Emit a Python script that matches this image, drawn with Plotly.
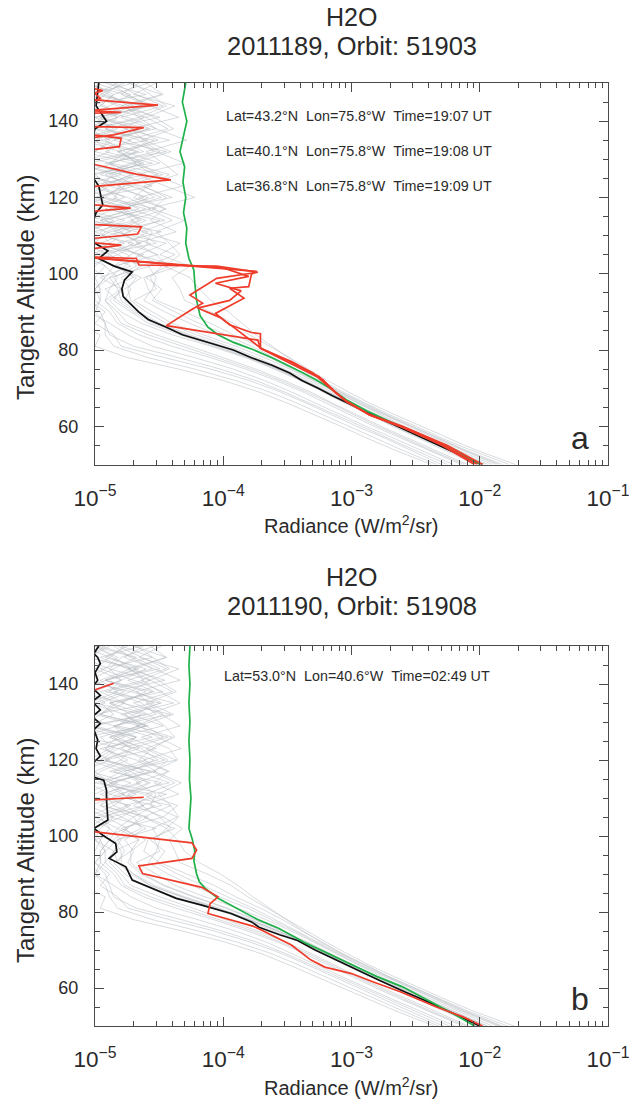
import plotly.graph_objects as go

# ---------------- data (radiance in W/m^2/sr, altitude in km) ----------------
gray_alt = [150, 147, 144, 141, 138, 135, 132, 129, 126, 123, 120, 117, 114, 111, 108, 105, 102, 99, 96,
            93, 90, 87, 84, 81, 78, 75, 72, 69, 66, 63, 60, 57, 54, 50]

gray_a_profiles = [
    [1.2e-5, 2.5e-5, 8e-6, 1.8e-5, 3e-5, 1.1e-5, 2.2e-5, 7e-6, 1.6e-5, 2.8e-5, 1e-5, 1.9e-5, 3.5e-5, 1.3e-5, 9e-6, 2.4e-5, 1.5e-5, 2e-5, 1.2e-5,
     1.5e-5, 2e-5, 2.8e-5, 5e-5, 9e-5, 1.6e-4, 2.7e-4, 4.3e-4, 6.5e-4, 1e-3, 1.5e-3, 2.3e-3, 3.6e-3, 5.6e-3, 1.05e-2],
    [2e-5, 9e-6, 1.5e-5, 3.2e-5, 1.2e-5, 2.6e-5, 8e-6, 1.9e-5, 1.1e-5, 2.3e-5, 4e-5, 1.4e-5, 9e-6, 2.1e-5, 3e-5, 1.1e-5, 2.7e-5, 1.3e-5, 1e-5,
     9e-6, 1.2e-5, 1e-5, 1.4e-5, 1.6e-5, 3.5e-5, 8e-5, 1.6e-4, 2.8e-4, 4.5e-4, 7e-4, 1.1e-3, 1.8e-3, 2.8e-3, 5e-3],
    [8e-6, 1.7e-5, 2.9e-5, 1e-5, 2.2e-5, 1.4e-5, 3.6e-5, 1.2e-5, 2.5e-5, 9e-6, 1.8e-5, 2.7e-5, 1.1e-5, 3.3e-5, 1.5e-5, 2.1e-5, 4.5e-5, 2.4e-5, 2.6e-5,
     3e-5, 5e-5, 8e-5, 1.2e-4, 1.9e-4, 2.8e-4, 4e-4, 5.8e-4, 8.2e-4, 1.25e-3, 1.9e-3, 3e-3, 4.7e-3, 7.5e-3, 1.5e-2],
    [1.5e-5, 1e-5, 2.3e-5, 1.3e-5, 7e-6, 1.9e-5, 1.2e-5, 2.8e-5, 9e-6, 1.6e-5, 1.2e-5, 3e-5, 1.5e-5, 8e-6, 2e-5, 1.3e-5, 1.9e-5, 1.1e-5, 1.6e-5,
     1.2e-5, 1.5e-5, 1.8e-5, 3e-5, 5.5e-5, 1e-4, 1.8e-4, 3e-4, 4.8e-4, 7.2e-4, 1.1e-3, 1.7e-3, 2.7e-3, 4.3e-3, 8e-3],
    [2.6e-5, 1.4e-5, 1.1e-5, 2.4e-5, 1.7e-5, 3.8e-5, 1.5e-5, 2.2e-5, 3.1e-5, 1.3e-5, 2.6e-5, 1.7e-5, 2.3e-5, 1.4e-5, 3.6e-5, 2.2e-5, 3.3e-5, 2.7e-5, 3e-5,
     2e-5, 2.8e-5, 4e-5, 7e-5, 1.25e-4, 2.1e-4, 3.3e-4, 5e-4, 7.5e-4, 1.1e-3, 1.7e-3, 2.6e-3, 4.1e-3, 6.5e-3, 1.25e-2],
    [1e-5, 1.9e-5, 1.3e-5, 8e-6, 1.5e-5, 9e-6, 2.1e-5, 1.4e-5, 7e-6, 2e-5, 1e-5, 8e-6, 1.7e-5, 1.1e-5, 1.3e-5, 8e-6, 1.2e-5, 1e-5, 1.1e-5,
     1.1e-5, 9e-6, 1.3e-5, 1.8e-5, 2.8e-5, 6e-5, 1.2e-4, 2.1e-4, 3.4e-4, 5.3e-4, 8.2e-4, 1.3e-3, 2.1e-3, 3.3e-3, 6.2e-3],
    [1.8e-5, 3.3e-5, 1.6e-5, 2.5e-5, 1e-5, 2.9e-5, 1.8e-5, 1.3e-5, 3.4e-5, 1.7e-5, 1.4e-5, 2.2e-5, 9e-6, 2.6e-5, 1.8e-5, 3.1e-5, 1.4e-5, 2.3e-5, 1.7e-5,
     1.3e-5, 1.6e-5, 2.3e-5, 4e-5, 8e-5, 1.5e-4, 2.5e-4, 4e-4, 6e-4, 9e-4, 1.4e-3, 2.1e-3, 3.3e-3, 5.1e-3, 9.5e-3],
    [3e-5, 2e-5, 4.2e-5, 2.5e-5, 3.7e-5, 1.8e-5, 3e-5, 5e-5, 2.1e-5, 3.5e-5, 6e-5, 2.6e-5, 4e-5, 2.3e-5, 4.6e-5, 3.2e-5, 5.5e-5, 4e-5, 4.6e-5,
     5e-5, 8e-5, 1.2e-4, 1.6e-4, 2.3e-4, 3.3e-4, 4.6e-4, 6.5e-4, 9.5e-4, 1.4e-3, 2.2e-3, 3.5e-3, 5.5e-3, 9e-3, 1.9e-2],
    [7e-6, 1.2e-5, 9e-6, 1.5e-5, 8e-6, 1.1e-5, 6e-6, 1.3e-5, 1.6e-5, 8e-6, 1.2e-5, 7e-6, 1.4e-5, 9e-6, 7e-6, 1.1e-5, 8e-6, 1e-5, 9e-6,
     8e-6, 1e-5, 7e-6, 1.1e-5, 1e-5, 1.8e-5, 4.5e-5, 1e-4, 1.9e-4, 3.2e-4, 5.2e-4, 8.3e-4, 1.3e-3, 2.1e-3, 4.2e-3],
    [1.4e-5, 2.1e-5, 3.4e-5, 1.6e-5, 2.7e-5, 1.2e-5, 1.7e-5, 3.2e-5, 1.4e-5, 2.1e-5, 2.9e-5, 1.3e-5, 2.5e-5, 1.6e-5, 2.2e-5, 1.5e-5, 2.3e-5, 1.6e-5, 1.9e-5,
     1.7e-5, 2.2e-5, 3.2e-5, 5.5e-5, 1e-4, 1.7e-4, 2.8e-4, 4.4e-4, 6.6e-4, 1e-3, 1.55e-3, 2.4e-3, 3.8e-3, 6e-3, 1.1e-2],
    [1.1e-5, 8e-6, 1.7e-5, 2.2e-5, 1e-5, 1.6e-5, 2.4e-5, 9e-6, 1.9e-5, 1.2e-5, 8e-6, 1.5e-5, 2e-5, 1e-5, 1.7e-5, 9e-6, 1.4e-5, 1.2e-5, 1e-5,
     1e-5, 1.3e-5, 1.5e-5, 2.2e-5, 4e-5, 8e-5, 1.5e-4, 2.6e-4, 4.2e-4, 6.4e-4, 9.8e-4, 1.5e-3, 2.4e-3, 3.8e-3, 7.2e-3],
    [2.2e-5, 1.6e-5, 2.7e-5, 4.5e-5, 1.9e-5, 2.4e-5, 3.9e-5, 2e-5, 2.9e-5, 4.8e-5, 2.2e-5, 3.6e-5, 1.9e-5, 2.8e-5, 2.5e-5, 4.2e-5, 2.6e-5, 3e-5, 2.8e-5,
     2.4e-5, 3.5e-5, 5.5e-5, 9e-5, 1.5e-4, 2.3e-4, 3.5e-4, 5.2e-4, 7.8e-4, 1.15e-3, 1.8e-3, 2.8e-3, 4.4e-3, 7e-3, 1.35e-2],
    [1.6e-5, 1.2e-5, 2e-5, 1.1e-5, 2.6e-5, 1.4e-5, 1e-5, 2.3e-5, 1.3e-5, 1.7e-5, 1.1e-5, 2.5e-5, 1.2e-5, 1.9e-5, 1.1e-5, 1.8e-5, 2.1e-5, 1.4e-5, 1.6e-5,
     1.4e-5, 1.9e-5, 2.6e-5, 4.6e-5, 8.5e-5, 1.55e-4, 2.6e-4, 4.1e-4, 6.2e-4, 9.2e-4, 1.4e-3, 2.15e-3, 3.4e-3, 5.3e-3, 1e-2],
    [9e-6, 1.4e-5, 1.1e-5, 7e-6, 1.8e-5, 1e-5, 1.3e-5, 8e-6, 2e-5, 1.1e-5, 1.5e-5, 9e-6, 1.2e-5, 1.6e-5, 8e-6, 1.3e-5, 1e-5, 9e-6, 1.1e-5,
     9e-6, 1.1e-5, 1.2e-5, 1.3e-5, 2e-5, 4.5e-5, 9.5e-5, 1.8e-4, 3e-4, 4.8e-4, 7.5e-4, 1.2e-3, 1.9e-3, 3e-3, 5.6e-3],
    [1.3e-5, 1.8e-5, 2.6e-5, 1.1e-5, 2e-5, 3.1e-5, 1.5e-5, 2.4e-5, 1.2e-5, 1.9e-5, 3.3e-5, 1.6e-5, 2.2e-5, 1.2e-5, 2.7e-5, 1.9e-5, 1.4e-5, 2.1e-5, 1.8e-5,
     1.9e-5, 2.5e-5, 3.6e-5, 6.2e-5, 1.1e-4, 1.85e-4, 3e-4, 4.7e-4, 7e-4, 1.05e-3, 1.6e-3, 2.5e-3, 3.9e-3, 6.2e-3, 1.15e-2],
    [9e-6, 1.3e-5, 1.8e-5, 1e-5, 1.4e-5, 8e-6, 1.6e-5, 2.1e-5, 1e-5, 1.3e-5, 9e-6, 1.8e-5, 1.1e-5, 1.5e-5, 2.3e-5, 1e-5, 1.2e-5, 1.5e-5, 1.3e-5,
     1.2e-5, 1.4e-5, 1.6e-5, 2.6e-5, 4.8e-5, 9e-5, 1.65e-4, 2.8e-4, 4.5e-4, 6.9e-4, 1.05e-3, 1.6e-3, 2.55e-3, 4e-3, 7.6e-3],
    [2.5e-5, 3.4e-5, 1.8e-5, 2.9e-5, 4.1e-5, 2.3e-5, 3.2e-5, 1.9e-5, 3.8e-5, 2.6e-5, 2e-5, 3.5e-5, 2.7e-5, 4.3e-5, 2.1e-5, 3e-5, 3.7e-5, 2.5e-5, 3.3e-5,
     2.8e-5, 4.2e-5, 6.5e-5, 1.05e-4, 1.65e-4, 2.5e-4, 3.7e-4, 5.4e-4, 8e-4, 1.2e-3, 1.85e-3, 2.9e-3, 4.6e-3, 7.3e-3, 1.42e-2],
    [1e-5, 7e-6, 1.2e-5, 1.5e-5, 9e-6, 1.3e-5, 1e-5, 7e-6, 1.4e-5, 1.1e-5, 1.7e-5, 1e-5, 8e-6, 1.2e-5, 1e-5, 1.5e-5, 9e-6, 1.2e-5, 1e-5,
     1.1e-5, 1e-5, 1.2e-5, 1.2e-5, 1.4e-5, 2.6e-5, 6e-5, 1.25e-4, 2.3e-4, 3.8e-4, 6e-4, 9.5e-4, 1.5e-3, 2.4e-3, 4.6e-3],
    [1.7e-5, 1.1e-5, 2.4e-5, 1.5e-5, 1.2e-5, 2.2e-5, 2.9e-5, 1.3e-5, 2e-5, 1.5e-5, 2.4e-5, 1.2e-5, 3.2e-5, 1.8e-5, 1.3e-5, 2.2e-5, 1.7e-5, 1.3e-5, 1.5e-5,
     1.6e-5, 2.1e-5, 3e-5, 5.2e-5, 9.5e-5, 1.65e-4, 2.7e-4, 4.2e-4, 6.3e-4, 9.5e-4, 1.45e-3, 2.25e-3, 3.5e-3, 5.5e-3, 1.05e-2],
    [2e-5, 2.7e-5, 3.6e-5, 2.2e-5, 3e-5, 5.2e-5, 2.5e-5, 3.4e-5, 4.4e-5, 2.4e-5, 3.6e-5, 2.8e-5, 5e-5, 3e-5, 3.8e-5, 4.6e-5, 3.5e-5, 5.5e-5, 6.5e-5,
     8e-5, 1.1e-4, 1.4e-4, 1.8e-4, 2.4e-4, 3.2e-4, 4.3e-4, 5.9e-4, 8.6e-4, 1.3e-3, 2e-3, 3.2e-3, 5e-3, 8.2e-3, 1.7e-2],
]

gray_b_profiles = [
    [1.6e-5, 2.8e-5, 1.1e-5, 2e-5, 3.4e-5, 1.3e-5, 2.5e-5, 9e-6, 1.8e-5, 3e-5, 1.2e-5, 2.1e-5, 3.8e-5, 1.5e-5, 1.1e-5, 2.6e-5, 1.7e-5, 2.2e-5, 1.4e-5,
     1.5e-5, 1.9e-5, 2.7e-5, 4.8e-5, 9e-5, 1.6e-4, 2.7e-4, 4.3e-4, 6.5e-4, 1e-3, 1.5e-3, 2.3e-3, 3.6e-3, 5.6e-3, 1.05e-2],
    [2.3e-5, 1.1e-5, 1.8e-5, 3.5e-5, 1.4e-5, 2.9e-5, 1e-5, 2.2e-5, 1.3e-5, 2.6e-5, 4.3e-5, 1.6e-5, 1.1e-5, 2.4e-5, 3.3e-5, 1.3e-5, 3e-5, 1.5e-5, 1.2e-5,
     1e-5, 1.3e-5, 1.1e-5, 1.5e-5, 1.8e-5, 3.8e-5, 8.5e-5, 1.65e-4, 2.9e-4, 4.6e-4, 7.2e-4, 1.12e-3, 1.8e-3, 2.8e-3, 5.2e-3],
    [1e-5, 2e-5, 3.2e-5, 1.2e-5, 2.5e-5, 1.6e-5, 3.9e-5, 1.4e-5, 2.8e-5, 1.1e-5, 2.1e-5, 3e-5, 1.3e-5, 3.6e-5, 1.7e-5, 2.4e-5, 4.2e-5, 2.6e-5, 2.4e-5,
     3.2e-5, 5.2e-5, 8.5e-5, 1.25e-4, 1.95e-4, 2.9e-4, 4.1e-4, 6e-4, 8.4e-4, 1.3e-3, 1.95e-3, 3.1e-3, 4.8e-3, 7.6e-3, 1.5e-2],
    [1.3e-5, 9e-6, 2.1e-5, 1.2e-5, 7e-6, 1.7e-5, 1.1e-5, 2.6e-5, 8e-6, 1.5e-5, 1.1e-5, 2.8e-5, 1.4e-5, 8e-6, 1.9e-5, 1.2e-5, 1.8e-5, 1e-5, 1.4e-5,
     1.3e-5, 1.6e-5, 1.9e-5, 3.2e-5, 5.8e-5, 1.05e-4, 1.85e-4, 3.1e-4, 4.9e-4, 7.4e-4, 1.12e-3, 1.75e-3, 2.8e-3, 4.4e-3, 8.2e-3],
    [2.9e-5, 1.6e-5, 1.3e-5, 2.7e-5, 1.9e-5, 4.1e-5, 1.7e-5, 2.5e-5, 3.4e-5, 1.5e-5, 2.9e-5, 1.9e-5, 2.6e-5, 1.6e-5, 3.9e-5, 2.4e-5, 3.6e-5, 2.9e-5, 3.2e-5,
     2.1e-5, 3e-5, 4.2e-5, 7.2e-5, 1.3e-4, 2.15e-4, 3.4e-4, 5.1e-4, 7.6e-4, 1.12e-3, 1.7e-3, 2.65e-3, 4.2e-3, 6.6e-3, 1.25e-2],
    [1.1e-5, 2.1e-5, 1.4e-5, 9e-6, 1.7e-5, 1e-5, 2.3e-5, 1.5e-5, 8e-6, 2.2e-5, 1.1e-5, 9e-6, 1.9e-5, 1.2e-5, 1.4e-5, 9e-6, 1.3e-5, 1.1e-5, 1.2e-5,
     1.2e-5, 1e-5, 1.4e-5, 1.9e-5, 3e-5, 6.3e-5, 1.25e-4, 2.2e-4, 3.5e-4, 5.4e-4, 8.4e-4, 1.32e-3, 2.1e-3, 3.4e-3, 6.4e-3],
    [2e-5, 3.6e-5, 1.8e-5, 2.7e-5, 1.2e-5, 3.2e-5, 2e-5, 1.5e-5, 3.7e-5, 1.9e-5, 1.6e-5, 2.4e-5, 1e-5, 2.8e-5, 2e-5, 3.4e-5, 1.6e-5, 2.5e-5, 1.9e-5,
     1.4e-5, 1.7e-5, 2.4e-5, 4.2e-5, 8.2e-5, 1.5e-4, 2.5e-4, 4e-4, 6e-4, 9.1e-4, 1.4e-3, 2.15e-3, 3.35e-3, 5.2e-3, 9.6e-3],
    [3.3e-5, 2.2e-5, 4.5e-5, 2.7e-5, 4e-5, 2e-5, 3.3e-5, 4.6e-5, 2.3e-5, 3.8e-5, 4.4e-5, 2.8e-5, 4.2e-5, 2.5e-5, 4.4e-5, 3.4e-5, 4.8e-5, 3.8e-5, 4.2e-5,
     4.6e-5, 7.5e-5, 1.15e-4, 1.55e-4, 2.2e-4, 3.2e-4, 4.5e-4, 6.4e-4, 9.3e-4, 1.38e-3, 2.15e-3, 3.4e-3, 5.4e-3, 8.8e-3, 1.85e-2],
    [8e-6, 1.3e-5, 1e-5, 1.6e-5, 9e-6, 1.2e-5, 7e-6, 1.4e-5, 1.7e-5, 9e-6, 1.3e-5, 8e-6, 1.5e-5, 1e-5, 8e-6, 1.2e-5, 9e-6, 1.1e-5, 1e-5,
     9e-6, 1.1e-5, 8e-6, 1.2e-5, 1.1e-5, 2e-5, 4.8e-5, 1.05e-4, 2e-4, 3.3e-4, 5.3e-4, 8.5e-4, 1.35e-3, 2.2e-3, 4.4e-3],
    [1.5e-5, 2.3e-5, 3.6e-5, 1.8e-5, 2.9e-5, 1.3e-5, 1.9e-5, 3.4e-5, 1.5e-5, 2.3e-5, 3.1e-5, 1.4e-5, 2.7e-5, 1.8e-5, 2.4e-5, 1.6e-5, 2.5e-5, 1.7e-5, 2e-5,
     1.8e-5, 2.3e-5, 3.4e-5, 5.8e-5, 1.05e-4, 1.75e-4, 2.9e-4, 4.5e-4, 6.8e-4, 1.02e-3, 1.58e-3, 2.45e-3, 3.9e-3, 6.1e-3, 1.12e-2],
    [1.2e-5, 9e-6, 1.9e-5, 2.4e-5, 1.1e-5, 1.7e-5, 2.6e-5, 1e-5, 2.1e-5, 1.3e-5, 9e-6, 1.6e-5, 2.2e-5, 1.1e-5, 1.8e-5, 1e-5, 1.5e-5, 1.3e-5, 1.1e-5,
     1.1e-5, 1.4e-5, 1.6e-5, 2.4e-5, 4.3e-5, 8.4e-5, 1.55e-4, 2.7e-4, 4.3e-4, 6.6e-4, 1e-3, 1.55e-3, 2.45e-3, 3.9e-3, 7.4e-3],
    [2.4e-5, 1.7e-5, 2.9e-5, 4.6e-5, 2.1e-5, 2.6e-5, 4.1e-5, 2.2e-5, 3.1e-5, 4.7e-5, 2.4e-5, 3.8e-5, 2.1e-5, 3e-5, 2.7e-5, 4.4e-5, 2.8e-5, 3.2e-5, 3e-5,
     2.6e-5, 3.7e-5, 5.7e-5, 9.3e-5, 1.55e-4, 2.35e-4, 3.6e-4, 5.3e-4, 7.9e-4, 1.17e-3, 1.82e-3, 2.85e-3, 4.5e-3, 7.1e-3, 1.38e-2],
    [1.7e-5, 1.3e-5, 2.2e-5, 1.2e-5, 2.8e-5, 1.5e-5, 1.1e-5, 2.5e-5, 1.4e-5, 1.9e-5, 1.2e-5, 2.7e-5, 1.3e-5, 2.1e-5, 1.2e-5, 2e-5, 2.3e-5, 1.5e-5, 1.7e-5,
     1.5e-5, 2e-5, 2.7e-5, 4.7e-5, 8.7e-5, 1.58e-4, 2.65e-4, 4.15e-4, 6.3e-4, 9.4e-4, 1.42e-3, 2.2e-3, 3.45e-3, 5.4e-3, 1.02e-2],
    [1e-5, 1.5e-5, 1.2e-5, 8e-6, 1.9e-5, 1.1e-5, 1.4e-5, 9e-6, 2.1e-5, 1.2e-5, 1.6e-5, 1e-5, 1.3e-5, 1.7e-5, 9e-6, 1.4e-5, 1.1e-5, 1e-5, 1.2e-5,
     1e-5, 1.2e-5, 1.3e-5, 1.4e-5, 2.1e-5, 4.7e-5, 9.8e-5, 1.85e-4, 3.1e-4, 4.9e-4, 7.7e-4, 1.22e-3, 1.95e-3, 3.1e-3, 5.8e-3],
    [1.4e-5, 1.9e-5, 2.8e-5, 1.2e-5, 2.1e-5, 3.3e-5, 1.6e-5, 2.5e-5, 1.3e-5, 2e-5, 3.5e-5, 1.7e-5, 2.3e-5, 1.3e-5, 2.9e-5, 2e-5, 1.5e-5, 2.2e-5, 1.9e-5,
     1.9e-5, 2.4e-5, 3.5e-5, 6e-5, 1.08e-4, 1.8e-4, 2.95e-4, 4.6e-4, 6.9e-4, 1.04e-3, 1.6e-3, 2.5e-3, 3.9e-3, 6.2e-3, 1.15e-2],
    [1e-5, 1.4e-5, 1.9e-5, 1.1e-5, 1.5e-5, 9e-6, 1.7e-5, 2.2e-5, 1.1e-5, 1.4e-5, 1e-5, 1.9e-5, 1.2e-5, 1.6e-5, 2.4e-5, 1.1e-5, 1.3e-5, 1.6e-5, 1.4e-5,
     1.2e-5, 1.5e-5, 1.7e-5, 2.7e-5, 5e-5, 9.3e-5, 1.7e-4, 2.85e-4, 4.6e-4, 7e-4, 1.07e-3, 1.65e-3, 2.6e-3, 4.1e-3, 7.8e-3],
    [2.7e-5, 3.6e-5, 2e-5, 3.1e-5, 4.3e-5, 2.5e-5, 3.4e-5, 2.1e-5, 4e-5, 2.8e-5, 2.2e-5, 3.7e-5, 2.9e-5, 4.5e-5, 2.3e-5, 3.2e-5, 3.9e-5, 2.7e-5, 3.5e-5,
     3e-5, 4.4e-5, 6.8e-5, 1.08e-4, 1.7e-4, 2.55e-4, 3.75e-4, 5.5e-4, 8.1e-4, 1.22e-3, 1.88e-3, 2.95e-3, 4.7e-3, 7.4e-3, 1.44e-2],
    [1.1e-5, 8e-6, 1.3e-5, 1.6e-5, 1e-5, 1.4e-5, 1.1e-5, 8e-6, 1.5e-5, 1.2e-5, 1.8e-5, 1.1e-5, 9e-6, 1.3e-5, 1.1e-5, 1.6e-5, 1e-5, 1.3e-5, 1.1e-5,
     1.1e-5, 1e-5, 1.2e-5, 1.3e-5, 1.5e-5, 2.8e-5, 6.4e-5, 1.3e-4, 2.4e-4, 3.9e-4, 6.2e-4, 9.8e-4, 1.55e-3, 2.5e-3, 4.8e-3],
    [1.8e-5, 1.2e-5, 2.5e-5, 1.6e-5, 1.3e-5, 2.3e-5, 3e-5, 1.4e-5, 2.1e-5, 1.6e-5, 2.5e-5, 1.3e-5, 3.3e-5, 1.9e-5, 1.4e-5, 2.3e-5, 1.8e-5, 1.4e-5, 1.6e-5,
     1.6e-5, 2e-5, 2.9e-5, 5e-5, 9.3e-5, 1.62e-4, 2.68e-4, 4.2e-4, 6.3e-4, 9.5e-4, 1.45e-3, 2.25e-3, 3.5e-3, 5.5e-3, 1.04e-2],
    [2.1e-5, 2.8e-5, 3.8e-5, 2.3e-5, 3.2e-5, 4.6e-5, 2.6e-5, 3.5e-5, 4.2e-5, 2.5e-5, 3.7e-5, 2.9e-5, 4.7e-5, 3.1e-5, 3.9e-5, 4.5e-5, 3.6e-5, 4.4e-5, 5e-5,
     6.5e-5, 9.5e-5, 1.3e-4, 1.7e-4, 2.3e-4, 3.1e-4, 4.2e-4, 5.8e-4, 8.5e-4, 1.28e-3, 1.95e-3, 3.1e-3, 4.9e-3, 8e-3, 1.65e-2],
]

# mean profile (black)
black_a_alt = [150, 147, 144, 142, 140, 138, 135, 132, 129, 126, 123, 120, 118, 116, 113, 110, 108, 106, 104, 102,
               100.5, 98.4, 96, 94, 92, 90, 88, 86, 84, 82, 80, 78, 76, 74, 72, 70, 68, 66, 63, 60, 57, 54, 52, 50]
black_a_val = [1.07e-5, 1.05e-5, 1.02e-5, 1.12e-5, 1.23e-5, 1.0e-5, 9.5e-6, 8.9e-6, 8.7e-6, 9.3e-6,
               1.07e-5, 1.12e-5, 1.15e-5, 1.02e-5, 9.5e-6, 9.3e-6, 1.0e-5, 1.26e-5, 1.07e-5, 1.41e-5,
               1.95e-5, 1.7e-5, 1.62e-5, 1.66e-5, 1.9e-5, 2.19e-5, 2.6e-5, 3.6e-5, 4.8e-5, 7.6e-5,
               1.2e-4, 1.66e-4, 2.4e-4, 3.3e-4, 4.1e-4, 5.5e-4, 7.1e-4, 9.5e-4, 1.45e-3, 2.3e-3,
               3.55e-3, 5.6e-3, 7.6e-3, 1.05e-2]
black_b_alt = [150, 148, 147, 145.4, 143, 141, 139, 137, 135.4, 133.2, 131.4, 129.6, 128, 125.3, 123, 121, 119, 115.6,
               114.7, 112, 109.4, 106, 104.2, 102, 100.2, 98, 95.8, 94.1, 91.9, 88.4, 86.2, 83.6, 81.8, 79.6, 77.4,
               76, 74, 72.5, 70, 68, 65, 62, 59, 56, 53, 50]
black_b_val = [1.07e-5, 9.8e-6, 1.05e-5, 1.1e-5, 1.0e-5, 1.05e-5, 9.5e-6, 1.1e-5, 9.5e-6, 1.1e-5,
               9.5e-6, 1.1e-5, 9.8e-6, 1.05e-5, 1.02e-5, 1.1e-5, 9.5e-6, 9.5e-6, 1.17e-5, 1.23e-5,
               1.23e-5, 1.26e-5, 1.26e-5, 9.8e-6, 1.15e-5, 1.45e-5, 1.48e-5, 1.29e-5, 1.74e-5, 1.95e-5,
               2.8e-5, 4.3e-5, 6.8e-5, 1.15e-4, 1.66e-4, 1.9e-4, 2.75e-4, 3.8e-4, 5.2e-4, 6.9e-4,
               1.07e-3, 1.66e-3, 2.6e-3, 4.2e-3, 6.5e-3, 1.0e-2]

# reference profile (green)
green_a_alt = [150, 145, 140, 135, 132, 128, 124, 120, 116, 112, 108, 104, 101, 97.5, 93, 89, 86, 84, 82, 80,
               78, 76, 74, 72, 70, 67, 64, 60, 57, 54, 52, 50]
green_a_val = [5.1e-5, 4.8e-5, 5.2e-5, 4.8e-5, 4.6e-5, 5.0e-5, 4.85e-5, 5.1e-5, 4.9e-5, 5.2e-5,
               5.1e-5, 5.4e-5, 5.9e-5, 6.0e-5, 6.2e-5, 6.6e-5, 7.6e-5, 9.1e-5, 1.2e-4, 1.74e-4,
               2.4e-4, 3.16e-4, 4.2e-4, 5.4e-4, 6.8e-4, 9.1e-4, 1.32e-3, 2.4e-3, 3.8e-3, 6.3e-3,
               7.9e-3, 1.0e-2]
green_b_alt = [150, 145, 140, 135, 130, 125, 120, 115, 110, 106, 102, 99, 96, 93.5, 90, 88, 86.3, 83.6, 80, 78,
               75.7, 72, 70, 66, 63, 60.3, 57, 55, 52.5, 50]
green_b_val = [5.5e-5, 5.4e-5, 5.5e-5, 5.4e-5, 5.5e-5, 5.4e-5, 5.5e-5, 5.45e-5, 5.6e-5, 5.5e-5,
               5.4e-5, 5.75e-5, 6.0e-5, 5.9e-5, 6.2e-5, 6.5e-5, 7.2e-5, 9.1e-5, 1.45e-4, 1.86e-4,
               2.7e-4, 4.3e-4, 5.75e-4, 1.02e-3, 1.58e-3, 2.5e-3, 3.8e-3, 5.0e-3, 6.8e-3, 9.1e-3]

# observed profiles (red)
red_a1_alt = [150, 148, 146, 144.2, 142.5, 130, 129.4, 126.1, 124.6, 122.8, 108.5, 107.5, 106, 104.2,
              100.6, 99.9, 96.6, 96.2, 93.6, 89.6, 86.6, 84.6, 84.3, 80.5, 77.5, 74, 72.2, 69, 66.5, 63, 60, 55, 50]
red_a1_val = [6e-6, 1.15e-5, 7e-6, 3.1e-5, 7e-6, 7e-6, 8e-6, 2.1e-5, 3.9e-5, 9e-6, 7e-6, 1.6e-5, 7e-6, 9e-6,
              1.82e-4, 1.66e-4, 1.58e-4, 1.12e-4, 1.45e-4, 8.7e-5, 1.12e-4, 1.66e-4, 1.95e-4, 1.95e-4,
              2.9e-4, 4.6e-4, 6.0e-4, 7.4e-4, 9.1e-4, 1.4e-3, 2.5e-3, 5.6e-3, 1.05e-2]
red_a2_alt = [150, 146, 143, 142.3, 142.0, 137, 135.5, 133.3, 132, 118.5, 117.2, 116, 104.5, 104.0, 102.3, 102.0,
              100.4, 98.8, 94.4, 92.3, 90.5, 86.4, 82.6, 80.5, 77, 73, 71.5, 66.5, 63, 60, 55, 50]
red_a2_val = [8e-6, 1.1e-5, 7e-6, 1.6e-5, 7e-6, 7e-6, 1.6e-5, 1.55e-5, 7e-6, 7e-6, 1.9e-5, 7e-6, 7e-6, 2.1e-5,
              2.2e-5, 8.9e-5, 1.86e-4, 8.9e-5, 5.5e-5, 6.9e-5, 5.6e-5, 3.6e-5, 1.86e-4, 1.95e-4,
              3.3e-4, 5.6e-4, 6.2e-4, 9.1e-4, 1.38e-3, 2.4e-3, 5.3e-3, 9.6e-3]
red_a3_alt = [150, 140, 138.6, 138.3, 136.4, 135, 113, 112.3, 110.4, 108.8, 104.3, 101.5, 99.3, 97.5, 95.5, 93.0,
              91.0, 88.5, 86.0, 83.0, 80.3, 77, 74, 70, 66.5, 63, 60, 55, 50]
red_a3_val = [7e-6, 7e-6, 9e-6, 2.4e-5, 1.4e-5, 7e-6, 8e-6, 2.3e-5, 2.15e-5, 7e-6, 8.9e-6, 1.0e-4, 1.58e-4,
              8.7e-5, 1.38e-4, 1.12e-4, 6.3e-5, 9.5e-5, 1.2e-4, 1.58e-4, 2.0e-4, 3.4e-4, 5.0e-4, 6.8e-4,
              9.3e-4, 1.38e-3, 2.4e-3, 5.1e-3, 9.1e-3]
red_b_alt = [140.2, 138.2, 137, 110.2, 109.5, 108.5, 102, 101.1, 98.2, 96.3, 94.1, 92.1, 90.1, 86.5, 84.0, 82.2,
             79.6, 76.3, 75.2, 71.3, 67.4, 65.5, 63.8, 61.5, 59, 55, 52.4, 50]
red_b_val = [1.4e-5, 9.5e-6, None, 2.4e-5, 9.8e-6, 5e-6, 5e-6, 1.0e-5, 5.7e-5, 6.2e-5, 5.7e-5, 2.2e-5, 2.35e-5,
             6.8e-5, 9.1e-5, 7.9e-5, 7.6e-5, 1.7e-4, 2.0e-4, 3.4e-4, 4.8e-4, 6.2e-4, 1.0e-3, 1.5e-3,
             2.4e-3, 4.6e-3, 7.4e-3, 1.05e-2]

titles = [("H2O", "2011189, Orbit: 51903"), ("H2O", "2011190, Orbit: 51908")]
info_a = ["Lat=43.2°N \u00a0Lon=75.8°W \u00a0Time=19:07 UT",
          "Lat=40.1°N \u00a0Lon=75.8°W \u00a0Time=19:08 UT",
          "Lat=36.8°N \u00a0Lon=75.8°W \u00a0Time=19:09 UT"]
info_b = ["Lat=53.0°N \u00a0Lon=40.6°W \u00a0Time=02:49 UT"]
panel_labels = ["a", "b"]

# ---------------- styling / layout ----------------
W, H = 629, 1102
FONT = "Liberation Sans, Arial, Helvetica, sans-serif"
TXT = "#2a2a2a"
AX = "#4a4a4a"
GRAY = "rgba(180,185,192,0.65)"
BLACK = "#111111"
GREEN = "#1fb14a"
RED = "#ef3b2a"

x0, x1 = 95, 608
panels = [dict(top=83, bot=464.5), dict(top=646, bot=1026)]

def py(ypx):
    return 1 - ypx / H

def px(xpx):
    return xpx / W

fig = go.Figure()

def add_panel(i, gray_profiles, black_alt, black_val, green_alt, green_val, reds):
    xa = "x" if i == 0 else "x2"
    ya = "y" if i == 0 else "y2"
    for prof in gray_profiles:
        fig.add_trace(go.Scatter(x=prof, y=gray_alt, mode="lines", xaxis=xa, yaxis=ya,
                                 line=dict(color=GRAY, width=0.8), hoverinfo="skip"))
    fig.add_trace(go.Scatter(x=black_val, y=black_alt, mode="lines", xaxis=xa, yaxis=ya,
                             line=dict(color=BLACK, width=1.7)))
    fig.add_trace(go.Scatter(x=green_val, y=green_alt, mode="lines", xaxis=xa, yaxis=ya,
                             line=dict(color=GREEN, width=1.7)))
    for ralt, rval in reds:
        fig.add_trace(go.Scatter(x=rval, y=ralt, mode="lines", xaxis=xa, yaxis=ya,
                                 line=dict(color=RED, width=1.7), connectgaps=False))

add_panel(0, gray_a_profiles, black_a_alt, black_a_val, green_a_alt, green_a_val,
          [(red_a1_alt, red_a1_val), (red_a2_alt, red_a2_val), (red_a3_alt, red_a3_val)])
add_panel(1, gray_b_profiles, black_b_alt, black_b_val, green_b_alt, green_b_val,
          [(red_b_alt, red_b_val)])

def xaxis_cfg(p, anchor):
    return dict(type="log", range=[-5, -1], domain=[px(x0), px(x1)], anchor=anchor, automargin=False,
                showline=True, linecolor=AX, linewidth=1, mirror="ticks",
                ticks="inside", ticklen=9, tickwidth=1, tickcolor=AX, dtick=1,
                exponentformat="power", showexponent="all", ticklabeloverflow="allow",
                tickfont=dict(family=FONT, size=18, color=TXT), ticklabelstandoff=14,
                minor=dict(ticks="inside", ticklen=5, dtick="D1", tickcolor=AX, tickwidth=1, showgrid=False),
                showgrid=False, zeroline=False, fixedrange=True)

def yaxis_cfg(p, anchor):
    return dict(range=[50, 150], domain=[py(p["bot"]), py(p["top"])], anchor=anchor, automargin=False,
                showline=True, linecolor=AX, linewidth=1, mirror="ticks",
                ticks="inside", ticklen=9, tickwidth=1, tickcolor=AX, tick0=0, dtick=20,
                ticklabeloverflow="allow",
                tickfont=dict(family=FONT, size=18, color=TXT), ticklabelstandoff=12,
                minor=dict(ticks="inside", ticklen=5, dtick=5, tickcolor=AX, tickwidth=1, showgrid=False),
                showgrid=False, zeroline=False, fixedrange=True)

annotations = []
title_y = [(17, 46), (577, 606)]
for i, p in enumerate(panels):
    cx = px((x0 + x1) / 2)
    annotations.append(dict(text=titles[i][0], x=cx, y=py(title_y[i][0]), xref="paper", yref="paper",
                            showarrow=False, xanchor="center", yanchor="middle",
                            font=dict(family=FONT, size=25, color=TXT)))
    annotations.append(dict(text=titles[i][1], x=cx, y=py(title_y[i][1]), xref="paper", yref="paper",
                            showarrow=False, xanchor="center", yanchor="middle",
                            font=dict(family=FONT, size=25.5, color=TXT)))
    annotations.append(dict(text="Radiance (W/m<sup>2</sup>/sr)", x=cx, y=py(p["bot"] + 60),
                            xref="paper", yref="paper", showarrow=False, xanchor="center", yanchor="middle",
                            font=dict(family=FONT, size=20, color=TXT)))
    annotations.append(dict(text="Tangent Altitude (km)", x=px(25), y=py(p["top"] + 205),
                            xref="paper", yref="paper", showarrow=False, textangle=-90,
                            xanchor="center", yanchor="middle",
                            font=dict(family=FONT, size=24, color=TXT)))
    annotations.append(dict(text=panel_labels[i], x=px(580), y=py(p["bot"] - 27), xref="paper", yref="paper",
                            showarrow=False, xanchor="center", yanchor="middle",
                            font=dict(family=FONT, size=32, color=TXT)))

for k, t in enumerate(info_a):
    annotations.append(dict(text=t, x=px(224), y=py(116 + 35 * k), xref="paper", yref="paper",
                            showarrow=False, xanchor="left", yanchor="middle",
                            font=dict(family=FONT, size=14.3, color=TXT)))
for k, t in enumerate(info_b):
    annotations.append(dict(text=t, x=px(222), y=py(676), xref="paper", yref="paper",
                            showarrow=False, xanchor="left", yanchor="middle",
                            font=dict(family=FONT, size=14.3, color=TXT)))

fig.update_layout(
    width=W, height=H, margin=dict(l=0, r=0, t=0, b=0, autoexpand=False),
    paper_bgcolor="white", plot_bgcolor="white", showlegend=False,
    xaxis=xaxis_cfg(panels[0], "y"), yaxis=yaxis_cfg(panels[0], "x"),
    xaxis2=xaxis_cfg(panels[1], "y2"), yaxis2=yaxis_cfg(panels[1], "x2"),
    annotations=annotations, hovermode=False,
)

fig.write_html("out.html", config={"displayModeBar": False},
               post_script="document.body.style.margin='0px';document.body.style.padding='0px';")
